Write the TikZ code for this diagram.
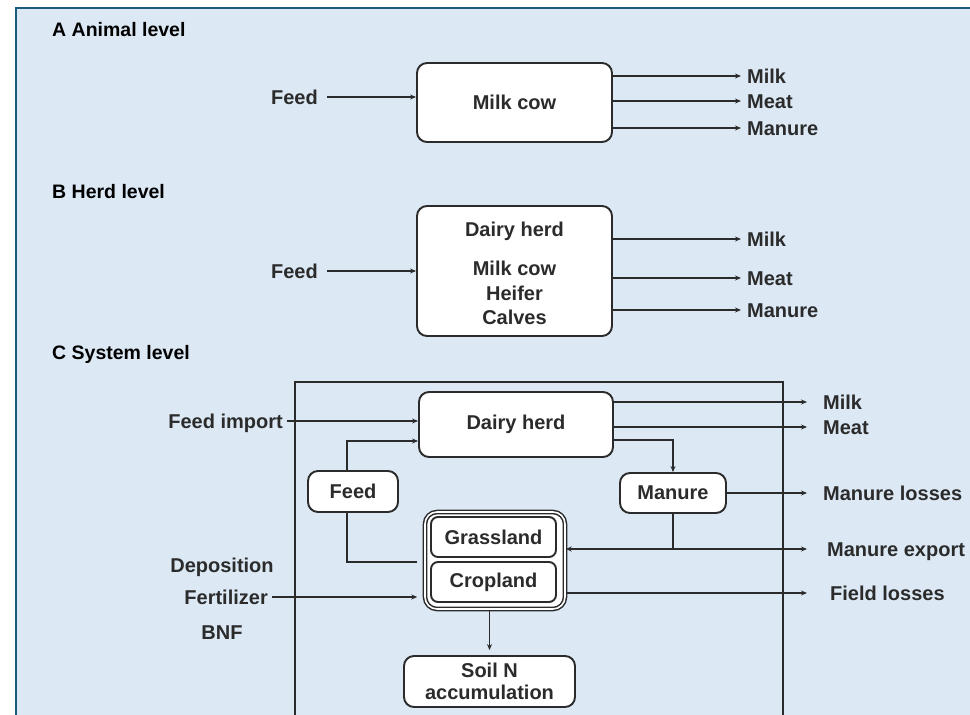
\documentclass[tikz,border=0pt]{standalone}
\usepackage{fontspec}
\setmainfont{Liberation Sans}
\usetikzlibrary{arrows.meta}
\definecolor{bgblue}{HTML}{DCE9F5}
\definecolor{frame}{HTML}{1B5A7A}
\definecolor{linec}{HTML}{2B2B2B}
\begin{document}
\begin{tikzpicture}[x=1pt,y=-1pt,
  box/.style={draw=linec, line width=1.9pt, fill=white, rounded corners=10pt, inner sep=0pt,
    font=\bfseries\fontsize{20}{22}\selectfont, text=linec, align=center},
  lbl/.style={inner sep=0pt, font=\bfseries\fontsize{20}{22}\selectfont, text=linec,
    text height=14.4pt, text depth=0pt},
  ttl/.style={inner sep=0pt, font=\bfseries\fontsize{19.5}{21}\selectfont, text=black,
    text height=13.9pt, text depth=0pt, anchor=west},
  ln/.style={draw=linec, line width=1.6pt},
  arr/.style={draw=linec, line width=1.6pt, -{Stealth[length=6pt,width=5pt]}}]
\useasboundingbox (0,0) rectangle (970,715);
\fill[white] (0,0) rectangle (970,715);
\fill[bgblue] (16,8) rectangle (970,715);
\draw[frame, line width=2.5pt] (16,715) -- (16,8) -- (970,8);

% ---------- A ----------
\node[ttl] (tA) at (52,30) {A Animal level};
\node[box, minimum width=195pt, minimum height=79pt] (cowA) at (514.5,102.5) {Milk cow};
\node[lbl, anchor=east] (feedA) at (318,97) {Feed};
\node[lbl, anchor=west] (milkA) at (747,76) {Milk};
\node[lbl, anchor=west] (meatA) at (747,101) {Meat};
\node[lbl, anchor=west] (manA) at (747,128) {Manure};
\draw[arr, shorten <=9pt] (feedA.east) -- (cowA.west |- feedA.east);
\draw[arr, shorten >=6pt] (cowA.east |- milkA.west) -- (milkA.west);
\draw[arr, shorten >=6pt] (cowA.east |- meatA.west) -- (meatA.west);
\draw[arr, shorten >=6pt] (cowA.east |- manA.west) -- (manA.west);

% ---------- B ----------
\node[ttl] (tB) at (52,192) {B Herd level};
\node[box, minimum width=195pt, minimum height=130pt] (herdB) at (514.5,271) {};
\node[lbl] (hB1) at (514.5,229) {Dairy herd};
\node[lbl] (hB2) at (514.5,268) {Milk cow};
\node[lbl] (hB3) at (514.5,293) {Heifer};
\node[lbl] (hB4) at (514.5,317) {Calves};
\node[lbl, anchor=east] (feedB) at (318,271) {Feed};
\node[lbl, anchor=west] (milkB) at (747,239) {Milk};
\node[lbl, anchor=west] (meatB) at (747,278) {Meat};
\node[lbl, anchor=west] (manB) at (747,310) {Manure};
\draw[arr, shorten <=9pt] (feedB.east) -- (herdB.west |- feedB.east);
\draw[arr, shorten >=6pt] (herdB.east |- milkB.west) -- (milkB.west);
\draw[arr, shorten >=6pt] (herdB.east |- meatB.west) -- (meatB.west);
\draw[arr, shorten >=6pt] (herdB.east |- manB.west) -- (manB.west);

% ---------- C ----------
\node[ttl] (tC) at (52,353) {C System level};
\draw[ln, line width=1.7pt] (295,716) -- (295,382) -- (783,382) -- (783,716);

\node[box, minimum width=194pt, minimum height=65pt] (herdC) at (516,424.5) {Dairy herd};
\node[box, minimum width=90pt, minimum height=41pt] (feedC) at (353,491.5) {Feed};
\node[box, minimum width=106pt, minimum height=40pt] (manC) at (673,493) {Manure};
\node[box, minimum width=140pt, minimum height=97pt, rounded corners=12pt,
      double=white, double distance=1.6pt, line width=1.5pt] (gc) at (495,560.5) {};
\node[box, minimum width=125pt, minimum height=40pt, rounded corners=7pt] (grass) at (493.5,537) {Grassland};
\node[box, minimum width=125pt, minimum height=40pt, rounded corners=7pt] (crop) at (493.5,582) {Cropland};
\node[box, minimum width=171pt, minimum height=51pt] (soil) at (489.5,681.5) {Soil N\\accumulation};

\node[lbl, anchor=east] (fimp) at (283,421) {Feed import};
\node[lbl] (dep) at (222,565) {Deposition};
\node[lbl, anchor=east] (fert) at (268,597) {Fertilizer};
\node[lbl] (bnf) at (222,632) {BNF};

\node[lbl, anchor=west] (milkC) at (823,402) {Milk};
\node[lbl, anchor=west] (meatC) at (823,427) {Meat};
\node[lbl, anchor=west] (mloss) at (823,493) {Manure losses};
\node[lbl, anchor=west] (mexp) at (827,549) {Manure export};
\node[lbl, anchor=west] (floss) at (830,593) {Field losses};

\draw[arr, shorten <=4pt] (fimp.east) -- (herdC.west |- fimp.east);
\draw[arr] ([xshift=-6pt]feedC.north) |- ([yshift=-16.5pt]herdC.west);
\draw[ln, shorten <=7pt] ([yshift=-1.5pt]gc.west) -| ([xshift=-6pt]feedC.south);
\draw[arr, shorten >=16pt] (herdC.east |- milkC.west) -- (milkC.west);
\draw[arr, shorten >=16pt] (herdC.east |- meatC.west) -- (meatC.west);
\draw[arr] ([yshift=-15.5pt]herdC.east) -| (manC.north);
\draw[arr, shorten >=16pt] (manC.east) -- (mloss.west |- manC.east);
\draw[ln] (manC.south) -- (manC.south |- mexp.west);
\draw[arr] (manC.south |- mexp.west) -- (gc.east |- mexp.west);
\draw[arr, shorten >=20pt] (manC.south |- mexp.west) -- (mexp.west);
\draw[arr, shorten >=23pt] (gc.east |- floss.west) -- (floss.west);
\draw[arr, shorten <=4pt, shorten >=7pt] (fert.east) -- (gc.west |- fert.east);
\draw[arr, shorten >=5pt] (soil.north |- gc.south) -- (soil.north);
\end{tikzpicture}
\end{document}
